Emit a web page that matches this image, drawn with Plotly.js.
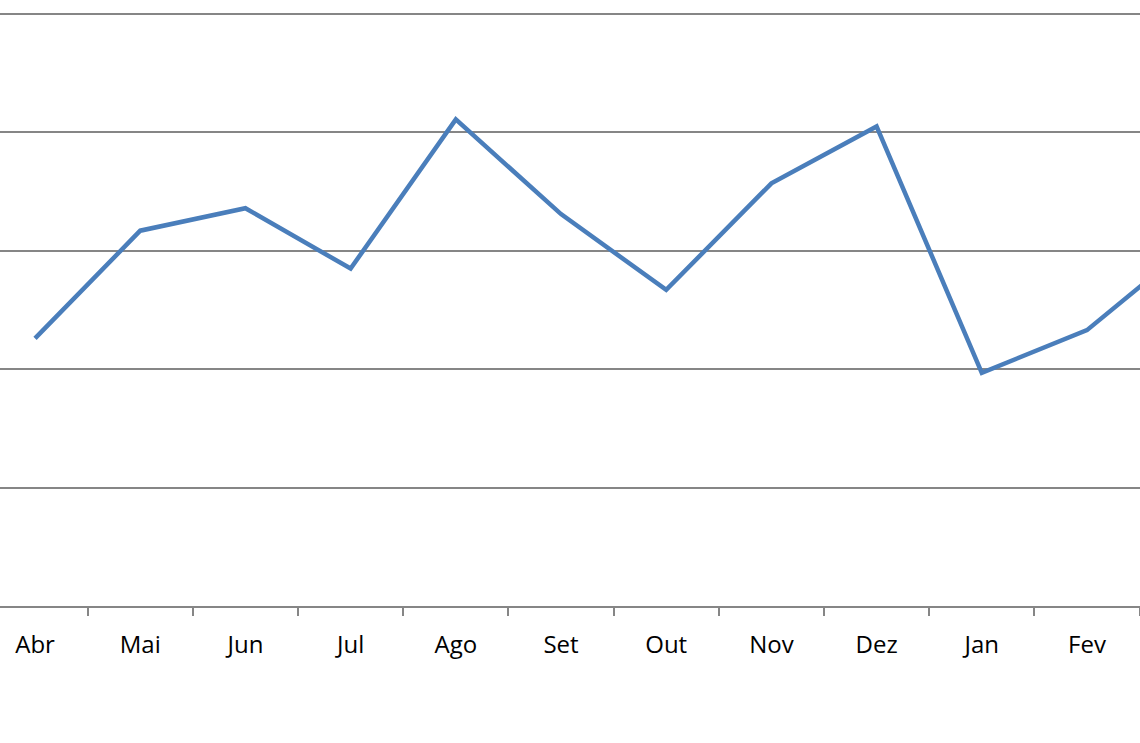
<!DOCTYPE html>
<html>
<head>
<meta charset="utf-8">
<script src="https://cdn.plot.ly/plotly-3.0.1.min.js"></script>
<style>html,body{margin:0;padding:0;background:#fff;}#chart{width:1140px;height:743px;}</style>
</head>
<body>
<div id="chart"></div>
<script>
const months = ["Abr","Mai","Jun","Jul","Ago","Set","Out","Nov","Dez","Jan","Fev","Mar"];
const values = [2.26, 3.17, 3.36, 2.85, 4.11, 3.31, 2.67, 3.57, 4.05, 1.97, 2.33, 3.06];

const trace = {
  x: months,
  y: values,
  type: 'scatter',
  mode: 'lines',
  line: {color: '#4a7ebb', width: 4.5},
  cliponaxis: true,
  hoverinfo: 'skip'
};

const layout = {
  width: 1140,
  height: 743,
  margin: {l: 0, r: 0, t: 12, b: 137, pad: 0},
  paper_bgcolor: '#ffffff',
  plot_bgcolor: '#ffffff',
  showlegend: false,
  xaxis: {
    type: 'category',
    categoryorder: 'array',
    categoryarray: months,
    range: [-0.333, 10.504],
    tickson: 'boundaries',
    ticks: 'outside',
    ticklen: 8,
    tickwidth: 2,
    tickcolor: '#868686',
    ticklabelstandoff: 16,
    showgrid: false,
    showline: true,
    linecolor: '#868686',
    linewidth: 2,
    zeroline: false,
    tickfont: {family: 'Open Sans, Noto Sans, sans-serif', size: 24, color: '#000000'},
    fixedrange: true
  },
  yaxis: {
    range: [0, 5.017],
    tick0: 0,
    dtick: 1,
    showticklabels: false,
    ticks: '',
    showgrid: true,
    gridcolor: '#868686',
    gridwidth: 2,
    zeroline: false,
    showline: false,
    fixedrange: true
  }
};

Plotly.newPlot('chart', [trace], layout, {staticPlot: true, displayModeBar: false});
</script>
</body>
</html>
